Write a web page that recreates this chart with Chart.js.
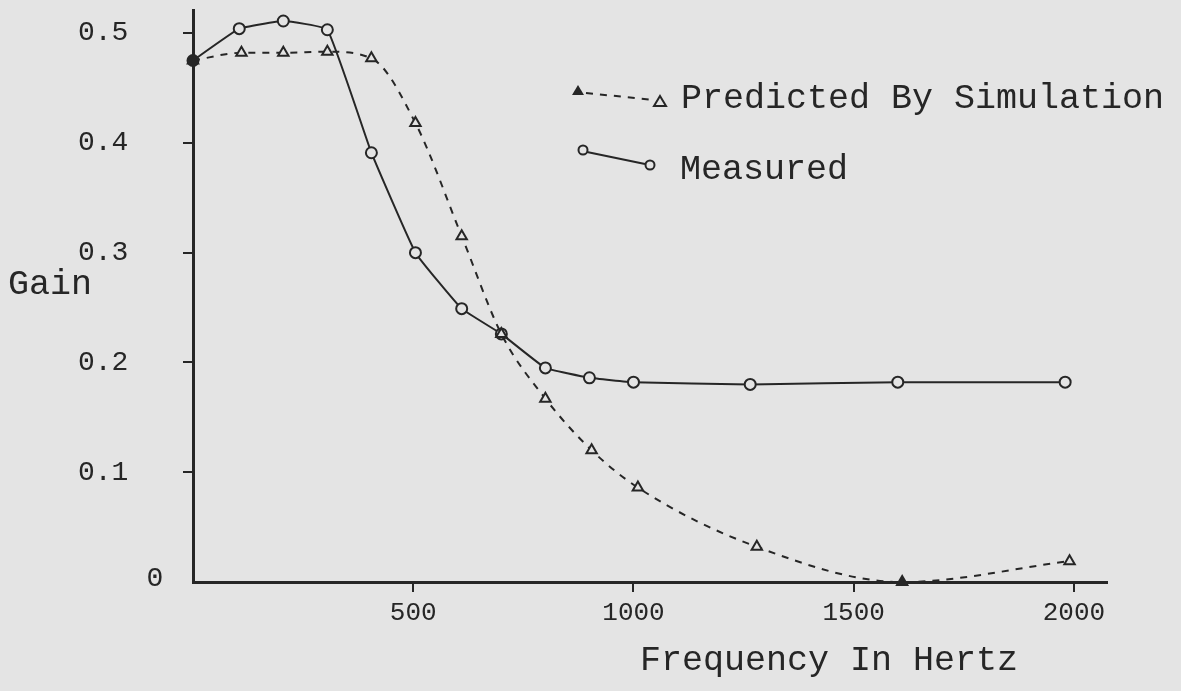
<!DOCTYPE html>
<html>
<head>
<meta charset="utf-8">
<script src="https://cdn.jsdelivr.net/npm/chart.js"></script>
<style>
  html, body { margin: 0; padding: 0; background: #e4e4e4; }
  canvas { display: block; }
</style>
</head>
<body>
<canvas id="grafico" width="1181" height="691"></canvas>
<script>
// Datos
const measuredHz = [0, 105, 205, 305, 405, 505, 610, 700, 800, 900, 1000, 1265, 1600, 1980];
const measuredGain = [0.475, 0.504, 0.511, 0.503, 0.391, 0.300, 0.249, 0.226, 0.195, 0.186, 0.182, 0.180, 0.182, 0.182];
const predictedHz = [0, 110, 205, 305, 405, 505, 610, 700, 800, 905, 1010, 1280, 1610, 1990];
const predictedGain = [0.475, 0.482, 0.482, 0.483, 0.477, 0.418, 0.315, 0.226, 0.167, 0.120, 0.086, 0.032, 0.0, 0.019];
const xTicks = [500, 1000, 1500, 2000];
const yTicks = [0.1, 0.2, 0.3, 0.4, 0.5];

const ink = "#262626";
const paper = "#e4e4e4";
const mono = "'Liberation Mono', 'DejaVu Sans Mono', monospace";

Chart.defaults.font.family = mono;
Chart.defaults.color = ink;

// pares {x, y} para el grafico
const toPoints = (xs, ys) => xs.map((x, i) => ({ x: x, y: ys[i] }));

// textos sueltos y leyenda dibujados a mano
const textos = {
  id: "textos",
  afterDraw(chart) {
    const ctx = chart.ctx;
    const area = chart.chartArea;
    ctx.save();
    ctx.fillStyle = ink;
    ctx.strokeStyle = ink;
    ctx.textBaseline = "middle";

    ctx.font = "35px " + mono;
    ctx.textAlign = "left";
    ctx.fillText("Gain", 8, 285);
    ctx.fillText("Frequency In Hertz", 640, 661);
    ctx.fillText("Predicted By Simulation", 681, 99);
    ctx.fillText("Measured", 680, 170);

    ctx.font = "28px " + mono;
    ctx.textAlign = "center";
    ctx.fillText("0", area.left - 38, area.bottom - 3);

    // leyenda: simulacion
    ctx.lineWidth = 2;
    ctx.setLineDash([7, 7]);
    ctx.beginPath();
    ctx.moveTo(586, 93);
    ctx.lineTo(654, 100);
    ctx.stroke();
    ctx.setLineDash([]);
    ctx.beginPath();
    ctx.moveTo(578, 85);
    ctx.lineTo(584, 95);
    ctx.lineTo(572, 95);
    ctx.closePath();
    ctx.fill();
    ctx.beginPath();
    ctx.moveTo(660, 96);
    ctx.lineTo(666, 106);
    ctx.lineTo(654, 106);
    ctx.closePath();
    ctx.stroke();

    // leyenda: medido
    ctx.beginPath();
    ctx.moveTo(587, 152);
    ctx.lineTo(645, 164);
    ctx.stroke();
    ctx.fillStyle = paper;
    ctx.beginPath();
    ctx.arc(583, 150, 4.5, 0, Math.PI * 2);
    ctx.fill();
    ctx.stroke();
    ctx.beginPath();
    ctx.arc(650, 165, 4.5, 0, Math.PI * 2);
    ctx.fill();
    ctx.stroke();
    ctx.restore();
  }
};

new Chart(document.getElementById("grafico"), {
  type: "line",
  data: {
    datasets: [
      {
        label: "Predicted By Simulation",
        data: toPoints(predictedHz, predictedGain),
        borderColor: ink,
        borderWidth: 2,
        borderDash: [7, 7],
        cubicInterpolationMode: "monotone",
        pointStyle: "triangle",
        pointRadius: 6,
        pointBorderWidth: 2,
        pointBorderColor: ink,
        pointBackgroundColor: predictedGain.map((v, i) => (i === 0 || v === 0 ? ink : paper)),
        clip: false
      },
      {
        label: "Measured",
        data: toPoints(measuredHz, measuredGain),
        borderColor: ink,
        borderWidth: 2,
        tension: 0.1,
        pointStyle: "circle",
        pointRadius: 5.5,
        pointBorderWidth: 2,
        pointBorderColor: ink,
        pointBackgroundColor: measuredHz.map((v, i) => (i === 0 ? ink : paper)),
        clip: false
      }
    ]
  },
  options: {
    responsive: false,
    animation: false,
    layout: { padding: { top: 10, right: 74, left: 78, bottom: 0 } },
    plugins: {
      legend: { display: false },
      tooltip: { enabled: false }
    },
    scales: {
      x: {
        type: "linear",
        min: 0,
        max: 2075,
        afterBuildTicks: (scale) => {
          scale.ticks = xTicks.map((v) => ({ value: v }));
        },
        afterFit: (scale) => {
          scale.height = 109;
        },
        border: { display: true, color: ink, width: 3 },
        grid: { display: true, drawOnChartArea: false, drawTicks: true, tickLength: 10, color: ink, lineWidth: 2 },
        ticks: {
          font: { size: 26 },
          padding: 6,
          maxRotation: 0,
          color: ink,
          callback: (v) => String(v)
        }
      },
      y: {
        type: "linear",
        min: 0,
        max: 0.521,
        afterBuildTicks: (scale) => {
          scale.ticks = yTicks.map((v) => ({ value: v }));
        },
        afterFit: (scale) => {
          scale.width = 115;
        },
        border: { display: true, color: ink, width: 3 },
        grid: { display: true, drawOnChartArea: false, drawTicks: true, tickLength: 10, color: ink, lineWidth: 2 },
        ticks: {
          font: { size: 28, lineHeight: 0.6 },
          padding: 0,
          crossAlign: "far",
          color: ink,
          callback: (v) => v.toFixed(1)
        }
      }
    }
  },
  plugins: [textos]
});
</script>
</body>
</html>
